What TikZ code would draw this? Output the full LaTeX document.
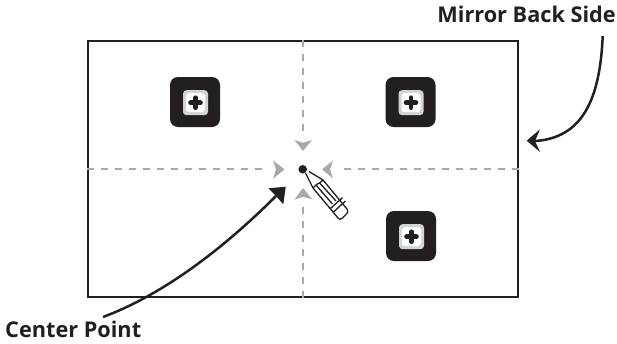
\documentclass[tikz,border=0pt]{standalone}
\usepackage{fontspec}
\setmainfont{Open Sans}
\usetikzlibrary{arrows.meta}
\definecolor{ink}{HTML}{231F20}
\definecolor{guide}{HTML}{A7A9AC}
\definecolor{ring}{HTML}{D1D3D4}
\tikzset{
  frame/.style={draw=ink,line width=2.6pt},
  guideline/.style={draw=guide,line width=1.9pt,dash pattern=on 7.5pt off 6.5pt},
  chev/.style={fill=guide,draw=none},
  callout/.style={draw=ink,line width=2.5pt},
  headtip/.style={fill=ink,draw=none},
  lab/.style={font=\bfseries\fontsize{21.7pt}{25pt}\selectfont,text=ink,inner sep=0pt},
  plate/.style={fill=ink,draw=none,rounded corners=8pt,minimum size=50pt,inner sep=0pt,shape=rectangle},
  pencilline/.style={draw=ink,line width=1.3pt,line join=round}
}
\newcommand{\screw}[3]{%
  \node[plate] (#3) at (#1,#2) {};
  \fill[ring,rounded corners=3.5pt] (#1-12,#2-11.8) rectangle (#1+13,#2+13.2);
  \fill[white,rounded corners=3pt] (#1-9,#2-8.8) rectangle (#1+10,#2+10.2);
  \draw[ink,line width=4.6pt,line cap=round] (#1-4.5,#2+0.7) -- (#1+5.5,#2+0.7);
  \draw[ink,line width=4.6pt,line cap=round] (#1+0.5,#2-4.3) -- (#1+0.5,#2+5.7);
}
\begin{document}
\begin{tikzpicture}[x=1pt,y=-1pt]
\useasboundingbox (0,0) rectangle (617,343);
\node[frame,minimum width=430pt,minimum height=256pt,inner sep=0pt,shape=rectangle] (mirror) at (303,169) {};
\coordinate (gl) at (268,169);
\coordinate (gr) at (338,169);
\coordinate (gt) at (303,135);
\coordinate (gb) at (303,205);
\path[guideline] (mirror.west) -- (gl);
\path[guideline] (mirror.east) -- (gr);
\path[guideline] (mirror.north) -- (gt);
\path[guideline] (mirror.south) -- (gb);
% chevrons
\fill[chev] (294.5,140) -- (303,151) -- (312,140) -- (303,142.8) -- cycle;
\fill[chev] (294.5,199.5) -- (303,188) -- (312.5,199.5) -- (303,196.8) -- cycle;
\fill[chev] (273,160.5) -- (284.5,169.3) -- (273,179) -- (276,169.3) -- cycle;
\fill[chev] (333,160.5) -- (322,169.3) -- (333,178.5) -- (330,169.3) -- cycle;
% screws
\screw{195}{102}{screwa}
\screw{410.5}{102}{screwb}
\screw{411}{236}{screwc}
% centre dot
\node[circle,fill=ink,draw=none,minimum size=8.5pt,inner sep=0pt] (dot) at (302.7,169.3) {};
% pencil
\draw[pencilline,fill=white,rounded corners=0.8pt] (305.5,173) -- (313,188) -- (335.5,215);
\draw[pencilline,rounded corners=3pt] (335.5,215) -- (340,220.5) -- (349,211.5) -- (344.5,206);
\draw[pencilline] (344.5,206) -- (323,180) -- (309,171.5);
\draw[pencilline] (313,188) -- (316.4,184.5) -- (319.6,183) -- (323,180);
\draw[pencilline] (316.4,185.5) -- (332.4,204);
\draw[pencilline] (319.6,183) -- (336,201);
\draw[pencilline] (330.5,208.5) -- (342.5,197.5);
\draw[pencilline] (333.5,212) -- (345.5,201);
% callouts
\node[lab,anchor=base east] (backlabel) at (616,22.7) {Mirror Back Side};
\node[lab,anchor=base west] (centerlabel) at (5,337) {Center Point};
\coordinate (backstart) at (602.7,36);
\coordinate (backnotch) at (535,141);
\coordinate (centerstart) at (103,317);
\coordinate (centernotch) at (276,196);
\draw[callout] (backstart) .. controls (600,100) and (582,138) .. (backnotch);
\fill[headtip] (526.7,140.7) -- (540,129.3) -- (535,141) -- (540,152) -- cycle;
\draw[callout] (centerstart) .. controls (170,292) and (232,240) .. (centernotch);
\fill[headtip] (285.7,186.7) -- (268.3,188.3) -- (276,196) -- (283.3,204.3) -- cycle;
\end{tikzpicture}
\end{document}
